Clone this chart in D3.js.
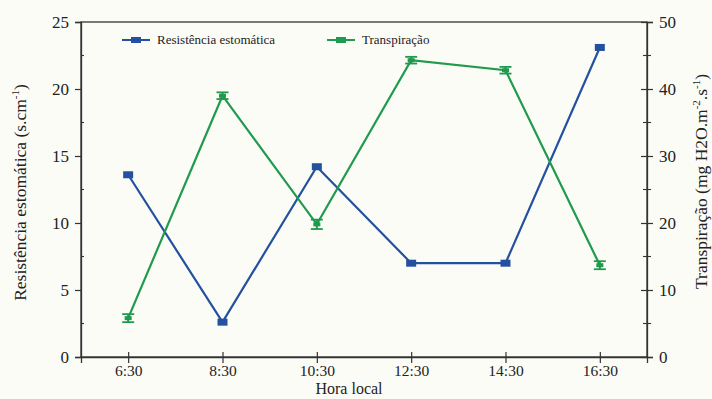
<!DOCTYPE html>
<html>
<head>
<meta charset="utf-8">
<script src="https://cdn.jsdelivr.net/npm/d3@7/dist/d3.min.js"></script>
<style>
  html, body { margin: 0; padding: 0; background: #fcfcf7; }
  svg { display: block; }
  svg text { font-family: "Liberation Serif", "Times New Roman", serif !important; fill: #222; }
</style>
</head>
<body>
<svg id="chart" width="712" height="399"></svg>
<script>
// Hourly measurements
const hours = ["6:30", "8:30", "10:30", "12:30", "14:30", "16:30"];
const resistencia = [13.6, 2.6, 14.2, 7.0, 7.0, 23.1];        // s.cm-1
const transpiracao = [5.8, 39.0, 19.8, 44.3, 42.8, 13.7];      // mg H2O.m-2.s-1
const transpiracaoErro = [0.6, 0.5, 0.7, 0.5, 0.5, 0.6];
const leftTicks = [0, 5, 10, 15, 20, 25];
const rightTicks = [0, 10, 20, 30, 40, 50];

const blue = "#23519f";
const green = "#1f9a4e";
const axisColor = "#333";
const serif = "'Liberation Serif', 'Times New Roman', serif";

const svg = d3.select("#chart");
const m = { left: 81, right: 65, top: 22, bottom: 42 };
const W = 712, H = 399;
const iw = W - m.left - m.right, ih = H - m.top - m.bottom;

const g = svg.append("g").attr("transform", `translate(${m.left},${m.top})`);

const x = d3.scalePoint().domain(hours).range([0, iw]).padding(0.5);
const yL = d3.scaleLinear().domain([0, 25]).range([ih, 0]);
const yR = d3.scaleLinear().domain([0, 50]).range([ih, 0]);

// frame
g.append("rect").attr("x", 0).attr("y", 0).attr("width", iw).attr("height", ih)
  .attr("fill", "none").attr("stroke", axisColor).attr("stroke-width", 1.3);

function styleAxis(sel) {
  sel.attr("font-family", serif).attr("font-size", 17);
  sel.select(".domain").attr("stroke", axisColor).attr("stroke-width", 1.3);
  sel.selectAll(".tick line").attr("stroke", axisColor).attr("stroke-width", 1.2);
  sel.selectAll(".tick text").attr("fill", "#222");
}

// left axis
const gl = g.append("g").call(d3.axisLeft(yL).tickValues(leftTicks).tickSize(6).tickPadding(6));
styleAxis(gl);
g.append("g").selectAll("line").data(d3.range(2.5, 25, 5)).join("line")
  .attr("x1", 0).attr("x2", 3).attr("y1", d => yL(d)).attr("y2", d => yL(d))
  .attr("stroke", axisColor).attr("stroke-width", 1.1);

// right axis (ticks crossing the axis line)
const gr = g.append("g").attr("transform", `translate(${iw},0)`)
  .call(d3.axisRight(yR).tickValues(rightTicks).tickSize(6).tickPadding(6));
styleAxis(gr);
gr.selectAll(".tick line").attr("x1", -6);
g.append("g").selectAll("line").data(d3.range(5, 50, 10)).join("line")
  .attr("x1", iw - 4).attr("x2", iw + 4).attr("y1", d => yR(d)).attr("y2", d => yR(d))
  .attr("stroke", axisColor).attr("stroke-width", 1.1);

// bottom axis
const gb = g.append("g").attr("transform", `translate(0,${ih})`)
  .call(d3.axisBottom(x).tickSize(6).tickPadding(2));
styleAxis(gb);
gb.attr("font-size", 15.5);
gb.selectAll(".tick line").attr("y1", -5);

// axis titles
svg.append("text").attr("transform", `translate(26,${m.top + ih / 2 + 3}) rotate(-90)`)
  .attr("text-anchor", "middle").style("font-size", "17.5px")
  .html('Resistência estomática (s.cm<tspan dy="-7" style="font-size:11px">-1</tspan><tspan dy="7">)</tspan>');
svg.append("text").attr("transform", `translate(707,${m.top + ih / 2 - 8}) rotate(-90)`)
  .attr("text-anchor", "middle").style("font-size", "17.5px")
  .html('Transpiração (mg H2O.m<tspan dy="-7" style="font-size:11px">-2</tspan><tspan dy="7">.s</tspan><tspan dy="-7" style="font-size:11px">-1</tspan><tspan dy="7">)</tspan>');
svg.append("text").attr("x", m.left + iw / 2 - 15).attr("y", 394)
  .attr("text-anchor", "middle").style("font-size", "16px").text("Hora local");

// resistance series
const lineL = d3.line().x((d, i) => x(hours[i])).y(d => yL(d));
g.append("path").datum(resistencia).attr("d", lineL)
  .attr("fill", "none").attr("stroke", blue).attr("stroke-width", 2.2);
g.append("g").selectAll("rect").data(resistencia).join("rect")
  .attr("x", (d, i) => x(hours[i]) - 5).attr("y", d => yL(d) - 3.5)
  .attr("width", 10).attr("height", 7).attr("fill", blue);

// transpiration series with error bars
const lineR = d3.line().x((d, i) => x(hours[i])).y(d => yR(d));
g.append("path").datum(transpiracao).attr("d", lineR)
  .attr("fill", "none").attr("stroke", green).attr("stroke-width", 2.2);
const eb = g.append("g").selectAll("g").data(transpiracao).join("g")
  .attr("transform", (d, i) => `translate(${x(hours[i])},0)`);
eb.append("line").attr("y1", (d, i) => yR(d - transpiracaoErro[i])).attr("y2", (d, i) => yR(d + transpiracaoErro[i]))
  .attr("stroke", green).attr("stroke-width", 2);
eb.append("line").attr("x1", -6).attr("x2", 6)
  .attr("y1", (d, i) => yR(d - transpiracaoErro[i])).attr("y2", (d, i) => yR(d - transpiracaoErro[i]))
  .attr("stroke", green).attr("stroke-width", 1.8);
eb.append("line").attr("x1", -6).attr("x2", 6)
  .attr("y1", (d, i) => yR(d + transpiracaoErro[i])).attr("y2", (d, i) => yR(d + transpiracaoErro[i]))
  .attr("stroke", green).attr("stroke-width", 1.8);
eb.append("rect").attr("x", -3.5).attr("y", d => yR(d) - 2).attr("width", 7).attr("height", 4).attr("fill", green);

// legend
const legend = [
  { label: "Resistência estomática", color: blue, x: 122 },
  { label: "Transpiração", color: green, x: 327 }
];
const lg = svg.append("g").selectAll("g").data(legend).join("g")
  .attr("transform", d => `translate(${d.x},40)`);
lg.append("line").attr("x1", 0).attr("x2", 28).attr("stroke", d => d.color).attr("stroke-width", 2);
lg.append("rect").attr("x", 9).attr("y", -3).attr("width", 10).attr("height", 6).attr("fill", d => d.color);
lg.append("text").attr("x", 35).attr("y", 4).style("font-size", "13px").text(d => d.label);
</script>
</body>
</html>
